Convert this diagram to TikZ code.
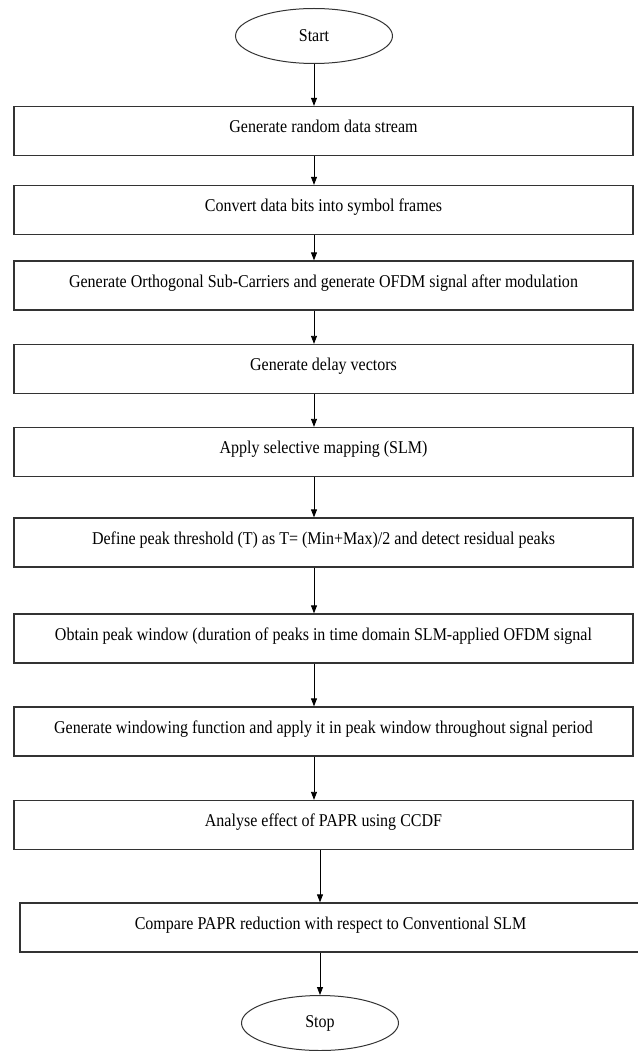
\documentclass[tikz,border=0pt]{standalone}
\usepackage{fontspec}
\setmainfont{Liberation Serif}[FakeStretch=0.89]
\usetikzlibrary{arrows.meta,shapes.geometric}

\begin{document}
\begin{tikzpicture}[x=1pt, y=-1pt, >={Triangle[length=8pt,width=6pt]},
  every node/.style={font=\fontsize{18pt}{21pt}\selectfont},
  stepbox/.style={rectangle, draw=black!80, line width=1.3pt, fill=white,
    minimum width=619pt, minimum height=49pt, text depth=9pt, inner sep=0pt},
  term/.style={ellipse, draw=black!80, line width=1pt, minimum width=157pt,
    minimum height=55pt, inner sep=0pt},
  flow/.style={->, line width=0.8pt}]
  \useasboundingbox (0,0) rectangle (637,1051);
  \node[term] (s) at (314, 36) {Start};
  \node[stepbox] (b1) at (323.5, 131) {Generate random data stream};
  \node[stepbox] (b2) at (323.5, 210) {Convert data bits into symbol frames};
  \node[stepbox] (b3) at (323.5, 285.5) {Generate Orthogonal Sub-Carriers and generate OFDM signal after modulation};
  \node[stepbox] (b4) at (323.5, 369) {Generate delay vectors};
  \node[stepbox] (b5) at (323.5, 452) {Apply selective mapping (SLM)};
  \node[stepbox] (b6) at (323.5, 542.5) {Define peak threshold (T) as T= (Min+Max)/2 and detect residual peaks};
  \node[stepbox] (b7) at (323.5, 638.5) {Obtain peak window (duration of peaks in time domain SLM-applied OFDM signal};
  \node[stepbox] (b8) at (323.5, 731.5) {Generate windowing function and apply it in peak window throughout signal period};
  \node[stepbox] (b9) at (323.5, 825) {Analyse effect of PAPR using CCDF};
  \node[stepbox, minimum width=621pt] (b10) at (330.5, 927.5) {Compare PAPR reduction with respect to Conventional SLM};
  \node[term] (e) at (320, 1023) {Stop};
  \draw[flow] (s.south) -- (s.south |- b1.north);
  \foreach \i/\j in {b1/b2, b2/b3, b3/b4, b4/b5, b5/b6, b6/b7, b7/b8, b8/b9}
    \draw[flow] (\i.south -| s.south) -- (\j.north -| s.south);
  \draw[flow] (b9.south -| e.north) -- (b10.north -| e.north);
  \draw[flow] (b10.south -| e.north) -- (e.north);
\end{tikzpicture}
\end{document}
